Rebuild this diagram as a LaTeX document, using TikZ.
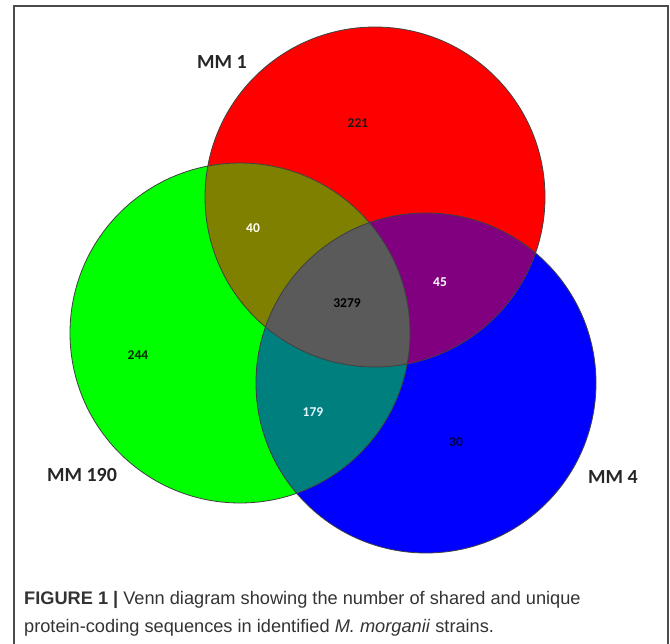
\documentclass[tikz,border=0pt]{standalone}
\usepackage{fontspec}
\setmainfont{Carlito}
\newfontfamily\capfont{Liberation Sans}

\definecolor{olivez}{HTML}{7F7F00}
\definecolor{purplez}{HTML}{800080}
\definecolor{tealz}{HTML}{007F7F}
\definecolor{grayz}{HTML}{5A5A5A}

\begin{document}
\begin{tikzpicture}[x=1pt,y=-1pt,
  rim/.style={draw=black!75,line width=0.8pt},
  num/.style={font=\bfseries\fontsize{13.5}{15}\selectfont,inner sep=0pt},
  lab/.style={font=\bfseries\fontsize{20}{22}\selectfont,text=black!85,inner sep=0pt},
  capline/.style={anchor=base west,font=\capfont\fontsize{18.2}{20}\selectfont,text=black!80,inner sep=0pt}]
  \useasboundingbox (0,0) rectangle (670,644);
  \draw[black!70,line width=2pt] (14,646) -- (14,6) -- (667.5,6) -- (667.5,646);

  % set centres
  \coordinate (R) at (375,197);
  \coordinate (G) at (240,333);
  \coordinate (B) at (426,383);

  % regions
  \fill[red] (R) circle (170pt);
  \fill[green] (G) circle (170pt);
  \fill[blue] (B) circle (170pt);
  \begin{scope}
    \clip (R) circle (170pt);
    \fill[olivez] (G) circle (170pt);
    \fill[purplez] (B) circle (170pt);
  \end{scope}
  \begin{scope}
    \clip (G) circle (170pt);
    \fill[tealz] (B) circle (170pt);
    \clip (R) circle (170pt);
    \fill[grayz] (B) circle (170pt);
  \end{scope}
  \draw[rim] (R) circle (170pt) (G) circle (170pt) (B) circle (170pt);

  % counts
  \node[num,text=black!90] (n221) at (358,123) {221};
  \node[num,text=white!95!yellow] (n40) at (253,228) {40};
  \node[num,text=black] (n3279) at (347,303) {3279};
  \node[num,text=white] (n45) at (440,282) {45};
  \node[num,text=black!85!green] (n244) at (138,355) {244};
  \node[num,text=white!90!cyan] (n179) at (313,412) {179};
  \node[num,text=blue!25!black] (n30) at (456,442) {30};

  % set names
  \node[lab] (mm1) at (222,62) {MM 1};
  \node[lab] (mm190) at (82,475) {MM 190};
  \node[lab] (mm4) at (613,477) {MM 4};

  % caption
  \node[capline] (c1) at (24,604) {\textbf{FIGURE 1 |} Venn diagram showing the number of shared and unique};
  \node[capline] (c2) at (24,632) {protein-coding sequences in identified \textit{M. morganii} strains.};
\end{tikzpicture}
\end{document}
